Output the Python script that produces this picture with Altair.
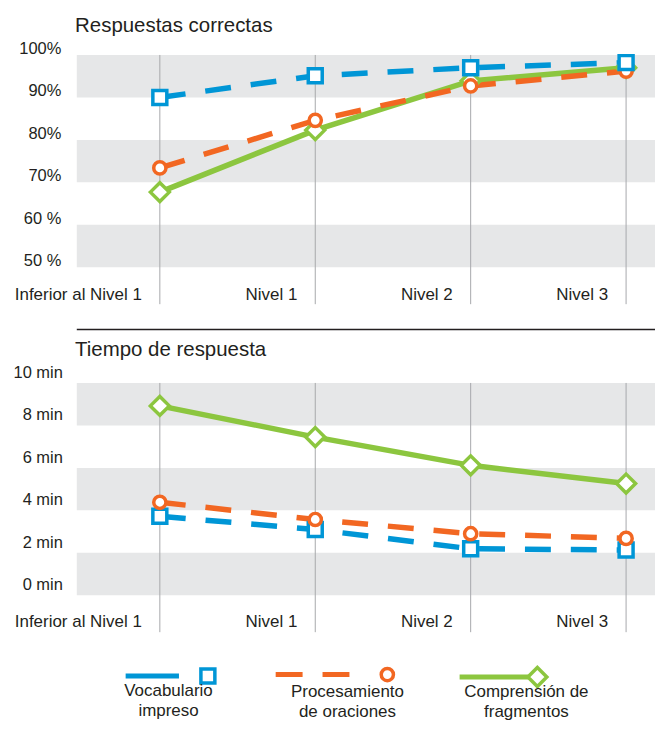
import altair as alt
import pandas as pd

# ---------------- data ----------------
levels = ["Inferior al Nivel 1", "Nivel 1", "Nivel 2", "Nivel 3"]
series = ["Vocabulario impreso", "Procesamiento de oraciones", "Comprensión de fragmentos"]
legend_line1 = ["Vocabulario", "Procesamiento", "Comprensión de"]
legend_line2 = ["impreso", "de oraciones", "fragmentos"]

acc_vocab = [90.0, 95.1, 97.0, 98.2]
acc_proc = [73.4, 84.6, 92.7, 96.2]
acc_comp = [67.7, 82.3, 93.9, 97.0]

time_vocab = [3.72, 3.10, 2.19, 2.13]
time_proc = [4.38, 3.57, 2.90, 2.68]
time_comp = [8.92, 7.45, 6.12, 5.26]

acc_ticks = [50, 60, 70, 80, 90, 100]
acc_tick_labels = ["50 %", "60 %", "70%", "80%", "90%", "100%"]
time_ticks = [0, 2, 4, 6, 8, 10]
time_tick_labels = ["0 min", "2 min", "4 min", "6 min", "8 min", "10 min"]

acc_band_lo = [90, 70, 50]
acc_band_hi = [100, 80, 60]
time_band_lo = [8, 4, 0]
time_band_hi = [10, 6, 2]

titles = ["Respuestas correctas", "Tiempo de respuesta"]

# ---------------- styles ----------------
FONT = "Liberation Sans"
TXT = "#231f20"
W = 580
H = 250
STYLE = {
    "Vocabulario impreso": dict(color="#0096d6", dash=[26, 20], shape="square", size=196),
    "Procesamiento de oraciones": dict(color="#f26722", dash=[26, 20], shape="circle", size=150),
    "Comprensión de fragmentos": dict(color="#8cc63f", dash=None, shape="diamond", size=361),
}
LEG = [
    dict(l0=-43, l1=10.5, m=39.5, y=294, t1=314, t2=334, dash=None),
    dict(l0=-72, l1=3, m=40, y=292.5, t1=315, t2=335, dash=[27, 20]),
    dict(l0=-67, l1=2, m=11, y=295, t1=315, t2=335, dash=None),
]

x_scale = alt.Scale(domain=[-0.5343, (W - 83.3) / 155.9], nice=False, zero=False)
leg_scale = alt.Scale(domain=[-92 / 179.5, (W - 92) / 179.5], nice=False, zero=False)


def label_expr(ticks, labels):
    expr = "''"
    for t, l in zip(ticks, labels):
        expr = f"datum.value == {t} ? '{l}' : ({expr})"
    return expr


def long_df(vals):
    rows = []
    for s, v in zip(series, vals):
        for i, (lv, val) in enumerate(zip(levels, v)):
            rows.append(dict(series=s, idx=i, level=lv, value=val))
    return pd.DataFrame(rows)


levels_df = pd.DataFrame({"idx": list(range(len(levels))), "level": levels})


def panel(title, df, order, y_domain, ticks, tick_labels, lo, hi, lab_off, lab_pad, title_y, xlab_y):
    y_scale = alt.Scale(domain=y_domain, nice=False, zero=False)
    bands = alt.Chart(pd.DataFrame({"lo": lo, "hi": hi})).mark_rect(color="#e6e7e8").encode(
        x=alt.value(0), x2=alt.value(W),
        y=alt.Y("lo:Q", scale=y_scale, axis=alt.Axis(
            values=ticks, labelExpr=label_expr(ticks, tick_labels), domain=False, ticks=False,
            grid=False, title=None, labelFontSize=16.5, labelFont=FONT, labelColor=TXT,
            labelPadding=lab_pad, labelBaseline="alphabetic", labelOffset=lab_off)),
        y2="hi:Q",
    )
    vlines = alt.Chart(levels_df).mark_rule(color="#a7a9ac", strokeWidth=1).encode(
        x=alt.X("idx:Q", scale=x_scale, axis=None), y=alt.value(0), y2=alt.value(H))
    xlabels = alt.Chart(levels_df).mark_text(
        align="right", baseline="alphabetic", dx=-18, fontSize=17, font=FONT, color=TXT
    ).encode(x=alt.X("idx:Q", scale=x_scale, axis=None), y=alt.value(xlab_y), text="level:N")
    ttl = alt.Chart(pd.DataFrame({"t": [title]})).mark_text(
        align="left", baseline="alphabetic", fontSize=20.5, font=FONT, color=TXT
    ).encode(x=alt.value(-1.7), y=alt.value(title_y), text="t:N")
    layers = [bands, vlines, xlabels, ttl]
    for s in order:
        st = STYLE[s]
        sub = df[df.series == s]
        lk = dict(color=st["color"], strokeWidth=5.5)
        if st["dash"]:
            lk["strokeDash"] = st["dash"]
        layers.append(alt.Chart(sub).mark_line(**lk).encode(
            x=alt.X("idx:Q", scale=x_scale, axis=None), y=alt.Y("value:Q", scale=y_scale)))
    for s in order:
        st = STYLE[s]
        sub = df[df.series == s]
        layers.append(alt.Chart(sub).mark_point(
            shape=st["shape"], size=st["size"], filled=True, fill="white", stroke=st["color"],
            strokeWidth=3.5, opacity=1).encode(
            x=alt.X("idx:Q", scale=x_scale, axis=None), y=alt.Y("value:Q", scale=y_scale)))
    return layers


top_layers = panel(titles[0], long_df([acc_vocab, acc_proc, acc_comp]),
                   [series[2], series[1], series[0]], [41.31, 100], acc_ticks, acc_tick_labels,
                   acc_band_lo, acc_band_hi, -1.5, 16, -23.3, 246)
top = alt.layer(*top_layers).properties(width=W, height=H)

bot_layers = panel(titles[1], long_df([time_vocab, time_proc, time_comp]),
                   [series[0], series[1], series[2]], [-1.737, 10], time_ticks, time_tick_labels,
                   time_band_lo, time_band_hi, -5.5, 14.5, -27.3, 245.3)
sep = alt.Chart(pd.DataFrame({"a": [0]})).mark_rule(color=TXT, strokeWidth=1.5).encode(
    x=alt.value(0), x2=alt.value(W), y=alt.value(-53.7))
bot_layers.append(sep)

leg_layers = []
for i, s in enumerate(series):
    st = STYLE[s]
    lg = LEG[i]
    ldf = pd.DataFrame({"idx": [i], "l1": [legend_line1[i]], "l2": [legend_line2[i]]})
    xe = alt.X("idx:Q", scale=leg_scale, axis=None)
    rk = dict(color=st["color"], strokeWidth=5, xOffset=lg["l0"], x2Offset=lg["l1"])
    if lg["dash"]:
        rk["strokeDash"] = lg["dash"]
    leg_layers.append(alt.Chart(ldf).mark_rule(**rk).encode(x=xe, x2="idx:Q", y=alt.value(lg["y"])))
    leg_layers.append(alt.Chart(ldf).mark_point(
        shape=st["shape"], size=st["size"], filled=True, fill="white", stroke=st["color"],
        strokeWidth=3.5, opacity=1, xOffset=lg["m"]).encode(x=xe, y=alt.value(lg["y"])))
    for col, yy in (("l1", lg["t1"]), ("l2", lg["t2"])):
        leg_layers.append(alt.Chart(ldf).mark_text(
            align="center", baseline="alphabetic", fontSize=17, font=FONT, color=TXT
        ).encode(x=xe, y=alt.value(yy), text=f"{col}:N"))

bottom = alt.layer(alt.layer(*bot_layers), alt.layer(*leg_layers)).resolve_scale(
    x="independent").properties(width=W, height=H)

chart = alt.vconcat(top, bottom, spacing=79, bounds="flush").properties(
    padding={"left": 4, "top": 6, "right": 0, "bottom": 0}
).configure_view(stroke=None)

chart.save("out.html", embed_options={"renderer": "svg", "actions": False})
